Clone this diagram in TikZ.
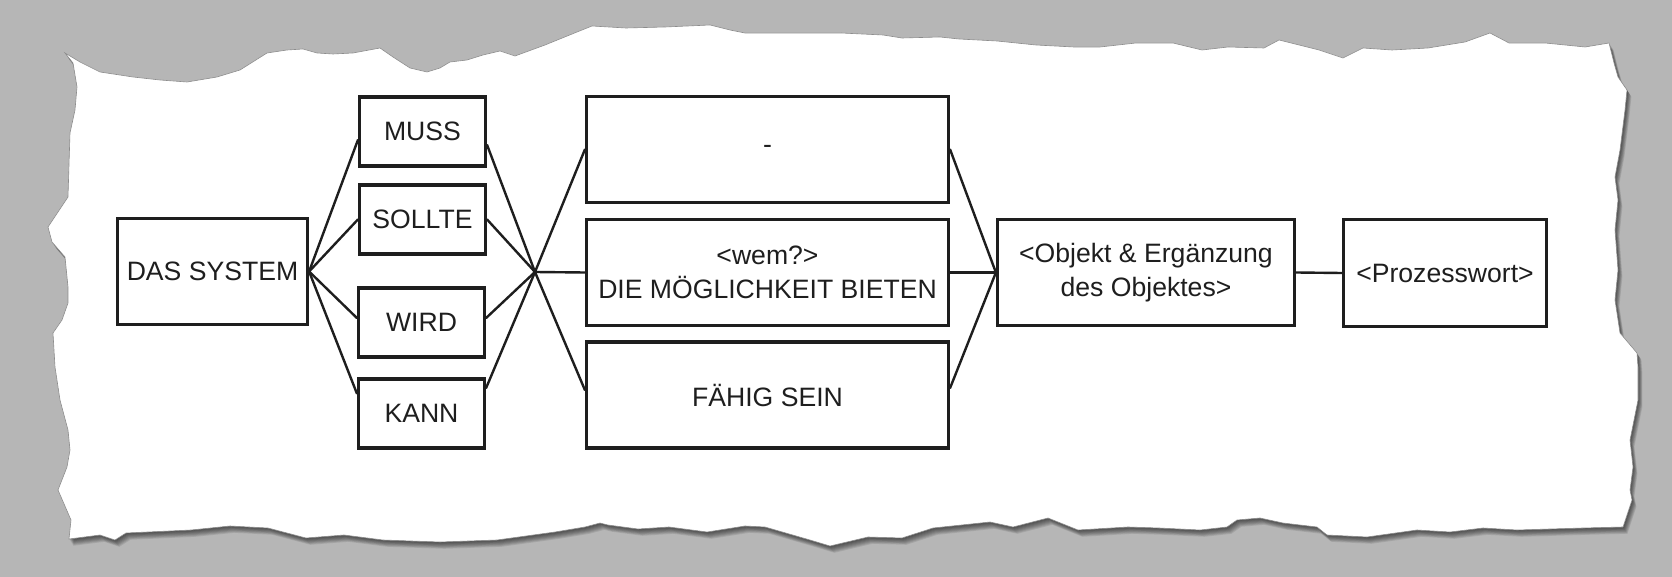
\documentclass[tikz,border=0pt]{standalone}
\usepackage{fontspec}
\setmainfont{Liberation Sans}
\definecolor{bg}{RGB}{182,182,182}
\definecolor{ink}{RGB}{30,30,30}
\def\paperpath{(65,53) -- (80,62) -- (100,72) -- (133,77) -- (160,80) -- (187,82) -- (217,77) -- (240,70) -- (267,53) -- (287,50) -- (303,49) -- (317,53) -- (333,54) -- (353,53) -- (380,48) -- (393,57) -- (410,68) -- (427,72) -- (440,68) -- (450,62) -- (467,60) -- (483,55) -- (500,51) -- (515,56) -- (545,45) -- (577,32) -- (592,26) -- (626,28) -- (665,27) -- (710,25) -- (730,30) -- (745,33) -- (798,33) -- (841,33) -- (883,35) -- (902,38) -- (940,37) -- (959,39) -- (997,41) -- (1036,45) -- (1074,47) -- (1100,47) -- (1136,43) -- (1173,43) -- (1202,50) -- (1228,47) -- (1264,48) -- (1279,40) -- (1319,50) -- (1343,58) -- (1363,48) -- (1392,50) -- (1428,48) -- (1465,42) -- (1490,33) -- (1509,43) -- (1545,43) -- (1585,47) -- (1609,43) -- (1614,63) -- (1618,77) -- (1627,90) -- (1625,110) -- (1620,150) -- (1615,177) -- (1618,200) -- (1615,230) -- (1618,270) -- (1615,300) -- (1620,333) -- (1637,353) -- (1638,367) -- (1638,400) -- (1630,440) -- (1633,467) -- (1630,490) -- (1632,500) -- (1623,527) -- (1583,528) -- (1550,529) -- (1517,530) -- (1483,528) -- (1450,532) -- (1417,530) -- (1367,537) -- (1327,535) -- (1317,527) -- (1283,523) -- (1260,518) -- (1237,520) -- (1227,527) -- (1200,530) -- (1159,528) -- (1128,527) -- (1078,530) -- (1048,518) -- (1013,527) -- (990,522) -- (933,528) -- (902,538) -- (868,537) -- (830,546) -- (810,540) -- (765,527) -- (745,526) -- (707,532) -- (669,527) -- (638,529) -- (608,525) -- (600,523) -- (585,527) -- (555,532) -- (497,540) -- (440,542) -- (383,540) -- (344,535) -- (306,538) -- (268,528) -- (230,526) -- (191,530) -- (126,533) -- (115,540) -- (100,535) -- (69,539) -- (71,520) -- (58,490) -- (67,467) -- (70,450) -- (68,430) -- (60,400) -- (55,367) -- (53,333) -- (62,320) -- (68,303) -- (68,287) -- (65,257) -- (52,242) -- (48,227) -- (68,197) -- (70,133) -- (75,110) -- (77,87) -- (73,63) -- cycle}
\begin{document}
\begin{tikzpicture}[x=0.5pt,y=-0.5pt,
  box/.style={draw=ink, line width=1.6pt, inner sep=0pt, align=center, text=ink,
    font=\fontsize{13.3}{16.7}\selectfont},
  verb/.style={box, minimum width=63pt, minimum height=34.5pt},
  mid/.style={box, minimum width=181pt, minimum height=53pt},
  conn/.style={draw=ink, line width=1.2pt, line cap=round},
  shadowlayer/.style={fill=black, opacity=0.09}]
\useasboundingbox (0,0) rectangle (1672,577);
\fill[bg] (0,0) rectangle (1672,577);
% shadow of the torn paper
\foreach \k in {1,...,8}{
  \fill[shadowlayer, shift={(0.55*\k,0.85*\k)}] \paperpath;
}
\fill[white, draw=black!45, line width=0.3pt] \paperpath;

% nodes
\node[box, minimum width=95pt, minimum height=53pt] (sys) at (212.5,271.5) {DAS SYSTEM};
\node[verb] (muss)   at (422.5,131.5) {MUSS};
\node[verb] (sollte) at (422.5,219.5) {SOLLTE};
\node[verb] (wird)   at (421.5,322.5) {WIRD};
\node[verb] (kann)   at (421.5,413.5) {KANN};
\node[mid] (b1) at (767.5,149.5) {-};
\node[mid] (b2) at (767.5,272.5) {<wem?>\\DIE MÖGLICHKEIT BIETEN};
\node[mid] (b3) at (767.5,395) {FÄHIG SEIN};
\node[box, minimum width=148.5pt, minimum height=53pt] (obj) at (1146,272.5) {<Objekt \& Ergänzung\\des Objektes>};
\node[box, minimum width=101.5pt, minimum height=53.5pt] (proz) at (1445,273) {<Prozesswort>};
\coordinate (hub) at (535,272);

% connectors
\draw[conn] (sys.east) -- ([yshift=-4.25pt]muss.west);
\draw[conn] (sys.east) -- (sollte.west);
\draw[conn] (sys.east) -- ([yshift=2.25pt]wird.west);
\draw[conn] (sys.east) -- ([yshift=10pt]kann.west);
\draw[conn] ([yshift=-6.75pt]muss.east) -- (hub);
\draw[conn] (sollte.east) -- (hub);
\draw[conn] ([yshift=2.25pt]wird.east) -- (hub);
\draw[conn] ([yshift=12.75pt]kann.east) -- (hub);
\draw[conn] (hub) -- (b1.west);
\draw[conn] (hub) -- (b2.west);
\draw[conn] (hub) -- ([yshift=2.5pt]b3.west);
\draw[conn] (b1.east) -- (obj.west);
\draw[conn] (b2.east) -- (obj.west);
\draw[conn] ([yshift=3.5pt]b3.east) -- (obj.west);
\draw[conn] (obj.east) -- (proz.west);
\end{tikzpicture}
\end{document}
